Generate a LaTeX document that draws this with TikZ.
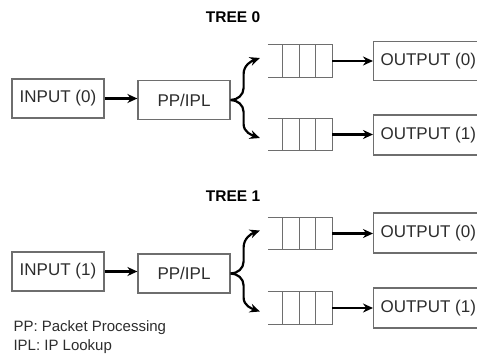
\documentclass[tikz,border=0pt]{standalone}
\usepackage{fontspec}
\setmainfont{Liberation Sans}
\usepackage{xcolor}
\usetikzlibrary{arrows.meta, positioning, calc}
\definecolor{boxgray}{RGB}{110,110,110}
\definecolor{textgray}{RGB}{45,45,45}
\tikzset{
  unit/.style={draw=boxgray, line width=1.2pt, text=textgray, minimum height=39pt,
    inner xsep=7pt, font=\fontsize{17}{20}\selectfont},
  queue/.style={minimum width=64pt, minimum height=32pt, inner sep=0pt},
  qline/.style={draw=boxgray, line width=1.2pt},
  flow/.style={line width=2.2pt, -{Stealth[length=10pt,width=9pt]}},
  title/.style={font=\fontsize{15.5}{18}\bfseries\selectfont}
}
\begin{document}
\begin{tikzpicture}[x=1pt, y=-1pt]
        \useasboundingbox[fill=white] (0,0) rectangle (477,356);

        % Tree 0
        \node[title] (t0) at (233,17.5) {TREE 0};
        \node[unit, minimum width=92pt] (in0) at (58,98.5) {INPUT (0)};
        \node[unit, minimum width=92pt] (pp0) at (184,100) {PP/IPL};
        \node[queue] (q0a) at (300,61) {};
        \node[queue] (q0b) at (300,134.5) {};
        \node[unit, anchor=west] (out0a) at (373,61) {OUTPUT (0)};
        \node[unit, anchor=west, minimum height=40pt] (out0b) at (373,135) {OUTPUT (1)};

        % Tree 1
        \node[title] (t1) at (233,196) {TREE 1};
        \node[unit, minimum width=92pt] (in1) at (58,271.5) {INPUT (1)};
        \node[unit, minimum width=92pt] (pp1) at (184,273.5) {PP/IPL};
        \node[queue] (q1a) at (300,233.5) {};
        \node[queue] (q1b) at (300,308) {};
        \node[unit, anchor=west, minimum height=40pt] (out1a) at (373,233) {OUTPUT (0)};
        \node[unit, anchor=west, minimum height=40pt] (out1b) at (373,308) {OUTPUT (1)};

        % Queues
        \foreach \q in {q0a,q0b,q1a,q1b} {
            \draw[qline] (\q.north west) -- (\q.north east) -- (\q.south east) -- (\q.south west);
            \foreach \d in {15,32,48}
                \draw[qline] ($(\q.north west)+(\d,0)$) -- ($(\q.south west)+(\d,0)$);
        }

        % Arrows
        \draw[flow] (in0) -- (in0 -| pp0.west);
        \draw[flow] (in1) -- (in1 -| pp1.west);
        \draw[flow] (q0a.east) -- (q0a.east -| out0a.west);
        \draw[flow] (q0b.east) -- (q0b.east -| out0b.west);
        \draw[flow] (q1a.east) -- (q1a.east -| out1a.west);
        \draw[flow] (q1b.east) -- (q1b.east -| out1b.west);

        % Braces
        \draw[flow] (pp0.east) to[out=0,in=-90] ++(13,-12) -- ++(0,-14) to[out=90,in=200] ($(q0a.west)+(-8,-3)$);
        \draw[flow] (pp0.east) to[out=0,in=90] ++(13,12) -- ++(0,12) to[out=-90,in=160] ($(q0b.west)+(-8,3.5)$);
        \draw[flow] (pp1.east) to[out=0,in=-90] ++(13,-12) -- ++(0,-14) to[out=90,in=200] ($(q1a.west)+(-8,-3)$);
        \draw[flow] (pp1.east) to[out=0,in=90] ++(13,12) -- ++(0,12) to[out=-90,in=160] ($(q1b.west)+(-8,3.5)$);

        % Legend
        \node[anchor=north west, align=left, text=textgray, font=\fontsize{15}{19.5}\selectfont] (legend) at (10,317)
            {PP: Packet Processing\\IPL: IP Lookup};
\end{tikzpicture}
\end{document}
